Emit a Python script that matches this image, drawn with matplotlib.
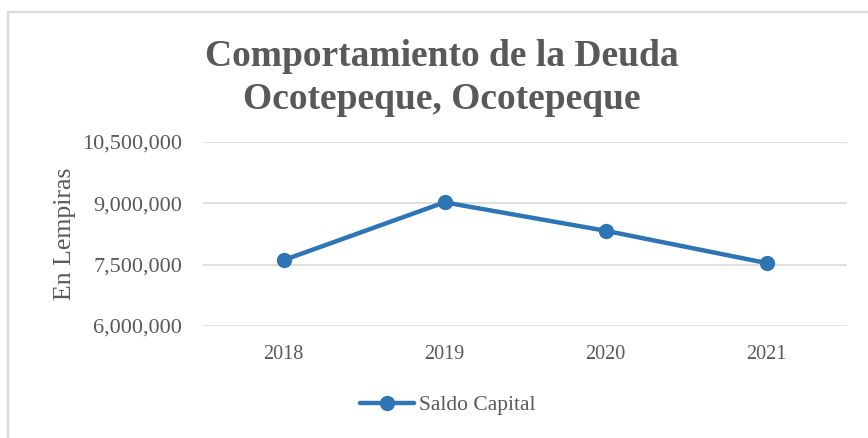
import matplotlib.pyplot as plt
from matplotlib.patches import Rectangle
from matplotlib.ticker import FuncFormatter

years = ["2018", "2019", "2020", "2021"]
saldo_capital = [7610000, 9025000, 8330000, 7540000]
y_ticks = [6000000, 7500000, 9000000, 10500000]

blue = "#2E75B6"
gray_text = "#595959"
grid_gray = "#d9d9d9"

plt.rcParams["font.family"] = ["Liberation Serif", "DejaVu Serif"]

fig = plt.figure(figsize=(8.68, 4.38), dpi=100)

# light frame around the chart area
fig.patches.append(Rectangle((8 / 868, -0.1), 1.0, 1 - 12 / 438 + 0.1,
                             transform=fig.transFigure, fill=False,
                             edgecolor=grid_gray, linewidth=1.6))

ax = fig.add_axes([203 / 868, 1 - 326 / 438, 644 / 868, 184 / 438])

x = range(len(years))
ax.plot(x, saldo_capital, color=blue, linewidth=3.2, marker="o",
        markersize=10, label="Saldo Capital", solid_capstyle="round")

ax.set_xlim(-0.5, len(years) - 0.5)
ax.set_ylim(y_ticks[0], y_ticks[-1])
ax.set_yticks(y_ticks)
ax.yaxis.set_major_formatter(FuncFormatter(lambda v, p: f"{int(v):,}"))
ax.set_xticks(list(x))
ax.set_xticklabels(years)

ax.grid(axis="y", color=grid_gray, linewidth=1.2)
ax.set_axisbelow(True)
for s in ax.spines.values():
    s.set_visible(False)
ax.tick_params(axis="both", length=0, labelcolor=gray_text)
ax.tick_params(axis="y", pad=15, labelsize=16)
ax.tick_params(axis="x", pad=14, labelsize=14.5)

ax.set_ylabel("En Lempiras", fontsize=18.5, color=gray_text)
ax.yaxis.set_label_coords((76 - 203) / 644, 0.5)

fig.text(442 / 868, 1 - 78 / 438, "Comportamiento de la Deuda\nOcotepeque, Ocotepeque",
         ha="center", va="center", fontsize=27, fontweight="bold",
         color=gray_text, linespacing=1.3)

fig.legend(loc="center", bbox_to_anchor=(448 / 868, 1 - 405 / 438), frameon=False,
           fontsize=15.5, labelcolor=gray_text, handlelength=2.5, handletextpad=0.25)

fig.savefig("out.png", dpi=100)
